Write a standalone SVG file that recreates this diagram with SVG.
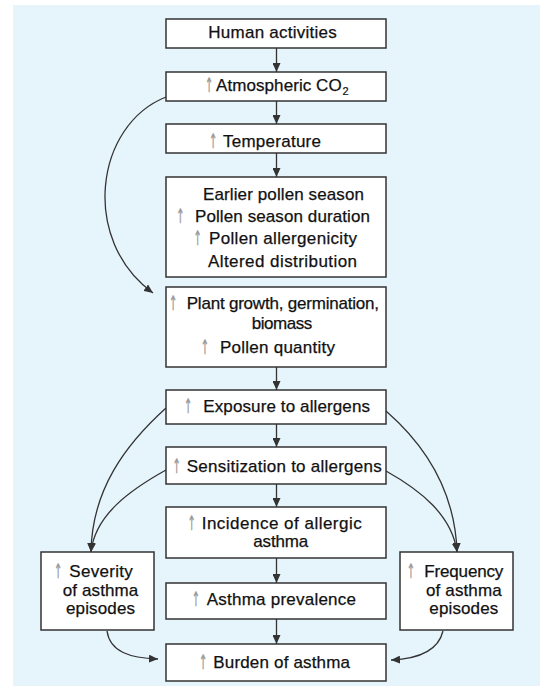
<svg xmlns="http://www.w3.org/2000/svg" width="540" height="686" viewBox="0 0 540 686">
<defs>
<marker id="ah" markerUnits="userSpaceOnUse" markerWidth="9" markerHeight="8" viewBox="0 0 9 8" refX="9" refY="4" orient="auto">
<path d="M0,0 L9,4 L0,8 Z" fill="#333"/>
</marker>
<style>
.box{fill:#fff;stroke:#333;stroke-width:1.5}
.t{font-family:"Liberation Sans",Arial,sans-serif;font-size:17px;fill:#111;stroke:#111;stroke-width:0.25}
.up{font-family:"DejaVu Sans",sans-serif;font-size:20px;fill:#999;stroke:#999;stroke-width:0.4;text-anchor:middle}
.sub{font-family:"Liberation Sans",Arial,sans-serif;font-size:11px;fill:#111;stroke:#111;stroke-width:0.2}
.c{fill:none;stroke:#333;stroke-width:1.3;marker-end:url(#ah)}
</style>
</defs>
<rect x="13" y="5" width="527" height="681" fill="#e6f4fc"/>
<g id="connectors">
<path class="c" d="M276.5,48 V72"/>
<path class="c" d="M276.5,101 V124"/>
<path class="c" d="M276.5,153 V177"/>
<path class="c" d="M276.5,367 V390"/>
<path class="c" d="M276.5,424 V447"/>
<path class="c" d="M276.5,484 V507"/>
<path class="c" d="M276.5,558 V583"/>
<path class="c" d="M276.5,619 V644"/>
<path class="c" d="M166,97 C95,125 80,240 153,293"/>
<path class="c" d="M166,408 C125,445 92,490 91,552"/>
<path class="c" d="M166,470 C130,490 95,515 91,552"/>
<path class="c" d="M386,411 C425,445 455,490 457,552"/>
<path class="c" d="M386,471 C420,490 452,515 457,552"/>
<path class="c" d="M107,631 C110,652 130,658 158,659"/>
<path class="c" d="M443,631 C438,652 415,659 391,660"/>
</g>
<g id="human">
<rect class="box" x="166" y="19" width="220" height="29"/>
<text class="t" x="208.3" y="38.3" textLength="128.4">Human activities</text>
</g>
<g id="co2">
<rect class="box" x="166" y="72" width="220" height="29"/>
<text class="up" transform="translate(209.3,92) scale(0.5,1)">↑</text>
<text class="t" x="216" y="91" textLength="125.7">Atmospheric CO</text>
<text class="sub" x="342.5" y="95">2</text>
</g>
<g id="temperature">
<rect class="box" x="166" y="124" width="220" height="29"/>
<text class="up" transform="translate(213.3,148) scale(0.5,1)">↑</text>
<text class="t" x="223" y="147" textLength="98">Temperature</text>
</g>
<g id="pollen">
<rect class="box" x="166" y="177" width="220" height="100"/>
<text class="t" x="203" y="200" textLength="161">Earlier pollen season</text>
<text class="up" transform="translate(180.5,222.7) scale(0.5,1)">↑</text>
<text class="t" x="195" y="221.7" textLength="175">Pollen season duration</text>
<text class="up" transform="translate(197.7,245) scale(0.5,1)">↑</text>
<text class="t" x="209" y="244" textLength="148">Pollen allergenicity</text>
<text class="t" x="208" y="266.7" textLength="149">Altered distribution</text>
</g>
<g id="plant">
<rect class="box" x="166" y="287" width="220" height="80"/>
<text class="up" transform="translate(173.3,310.3) scale(0.5,1)">↑</text>
<text class="t" x="186.7" y="309.3" textLength="192.3">Plant growth, germination,</text>
<text class="t" x="251.7" y="329" textLength="60.6">biomass</text>
<text class="up" transform="translate(205,354.3) scale(0.5,1)">↑</text>
<text class="t" x="220" y="353.3" textLength="115">Pollen quantity</text>
</g>
<g id="exposure">
<rect class="box" x="166" y="390" width="220" height="34"/>
<text class="up" transform="translate(188.3,412.7) scale(0.5,1)">↑</text>
<text class="t" x="203.3" y="411.7" textLength="166.7">Exposure to allergens</text>
</g>
<g id="sensitization">
<rect class="box" x="166" y="447" width="220" height="37"/>
<text class="up" transform="translate(176.7,472.7) scale(0.5,1)">↑</text>
<text class="t" x="186.7" y="471.7" textLength="195">Sensitization to allergens</text>
</g>
<g id="incidence">
<rect class="box" x="166" y="507" width="220" height="51"/>
<text class="up" transform="translate(191.7,530.3) scale(0.5,1)">↑</text>
<text class="t" x="201.7" y="529.3" textLength="160">Incidence of allergic</text>
<text class="t" x="253.3" y="546.7" textLength="55">asthma</text>
</g>
<g id="prevalence">
<rect class="box" x="166" y="583" width="220" height="36"/>
<text class="up" transform="translate(196,606) scale(0.5,1)">↑</text>
<text class="t" x="206.7" y="605" textLength="149.3">Asthma prevalence</text>
</g>
<g id="burden">
<rect class="box" x="166" y="644" width="220" height="37"/>
<text class="up" transform="translate(203.3,669.3) scale(0.5,1)">↑</text>
<text class="t" x="213.3" y="668.3" textLength="136.7">Burden of asthma</text>
</g>
<g id="severity">
<rect class="box" x="41" y="552" width="113" height="78"/>
<text class="up" transform="translate(58.3,577.7) scale(0.5,1)">↑</text>
<text class="t" x="69.3" y="576.7" textLength="63.4">Severity</text>
<text class="t" x="62.7" y="595.5" textLength="75.6">of asthma</text>
<text class="t" x="66" y="613.5" textLength="69">episodes</text>
</g>
<g id="frequency">
<rect class="box" x="400" y="552" width="113" height="78"/>
<text class="up" transform="translate(411,577.7) scale(0.5,1)">↑</text>
<text class="t" x="424.3" y="576.7" textLength="79">Frequency</text>
<text class="t" x="426" y="595.5" textLength="75.7">of asthma</text>
<text class="t" x="429.3" y="613.5" textLength="69">episodes</text>
</g>
</svg>
